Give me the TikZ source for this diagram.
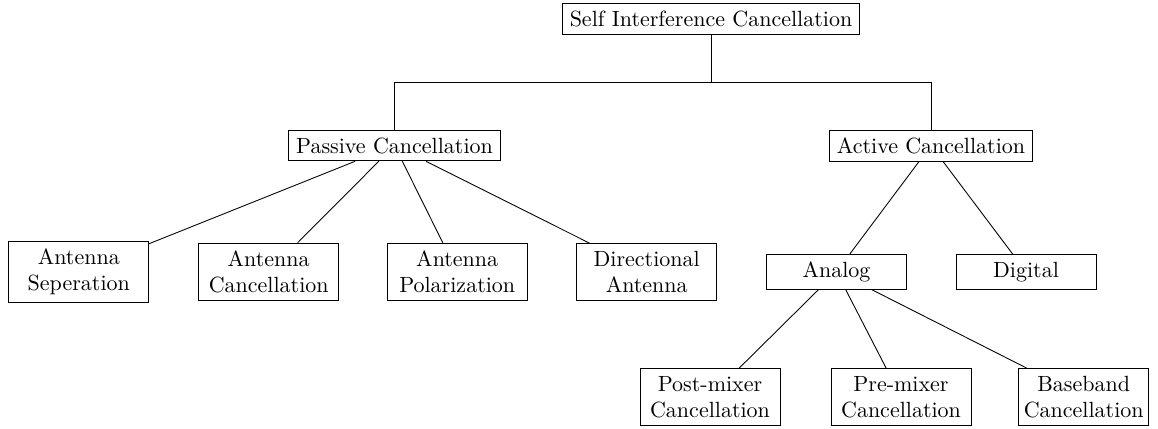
\documentclass[tikz,border=0pt]{standalone}
\begin{document}
\begin{tikzpicture}[x=0.4545pt, y=-0.4545pt,
  box/.style={draw, rectangle, align=center},
  leaf/.style={box, text width=2cm},
  link/.style={draw, line width=0.4pt}]
\useasboundingbox (0,0) rectangle (1158,428);

% top level
\node[box] (sic) at (711,19) {Self Interference Cancellation};

% second level
\node[box] (passive) at (394.5,145.5) {Passive Cancellation};
\node[box] (active)  at (931,145.5) {Active Cancellation};

% passive techniques
\node[leaf] (sep)  at (78.8,271.8)  {Antenna\\Seperation};
\node[leaf] (canc) at (268.7,271.8) {Antenna\\Cancellation};
\node[leaf] (pol)  at (457.2,271.8) {Antenna\\Polarization};
\node[leaf] (dir)  at (646.7,271.8) {Directional\\Antenna};

% active techniques
\node[leaf] (analog)  at (836.5,271.8) {Analog};
\node[leaf] (digital) at (1026,271.8)  {Digital};

% analog variants
\node[leaf] (post)  at (710,397)    {Post-mixer\\Cancellation};
\node[leaf] (pre)   at (901,397)    {Pre-mixer\\Cancellation};
\node[box, inner xsep=2.3pt] (base) at (1083.7,397) {Baseband\\Cancellation};

% bus below the root
\coordinate (bus) at (711,82);
\draw[link] (sic.south) -- (bus);
\draw[link] (bus) -| (passive.north);
\draw[link] (bus) -| (active.north);

% tree branches
\draw[link] (passive) -- (sep);
\draw[link] (passive) -- (canc);
\draw[link] (passive) -- (pol);
\draw[link] (passive) -- (dir);
\draw[link] (active) -- (analog);
\draw[link] (active) -- (digital);
\draw[link] (analog) -- (post);
\draw[link] (analog) -- (pre);
\draw[link] (analog) -- (base);
\end{tikzpicture}
\end{document}
